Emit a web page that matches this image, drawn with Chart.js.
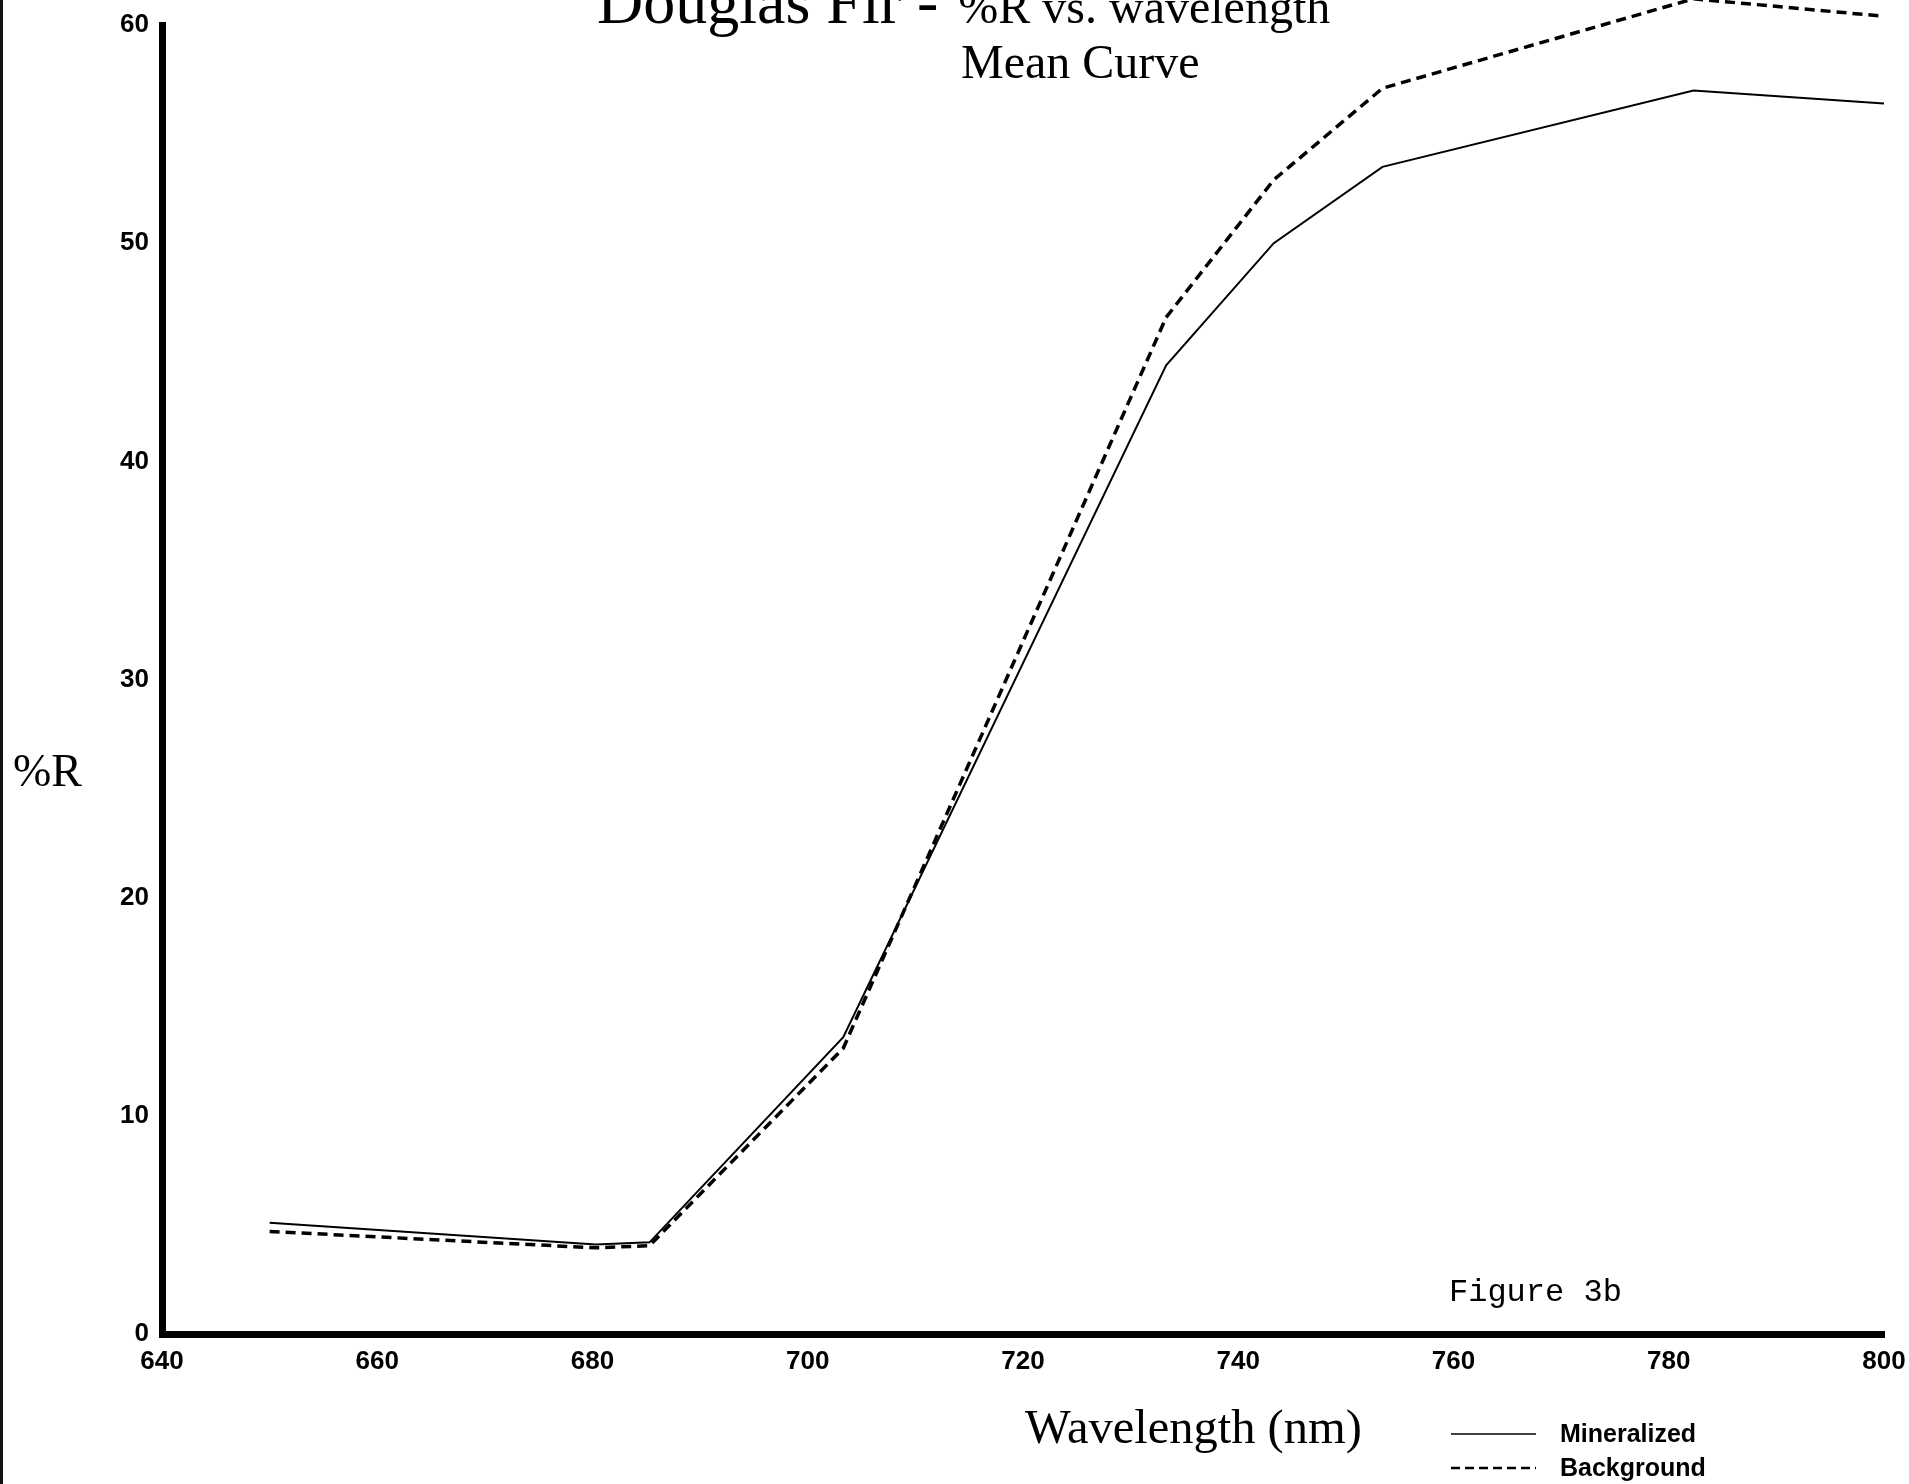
<!DOCTYPE html>
<html>
<head>
<meta charset="utf-8">
<title>Douglas Fir - %R vs. wavelength</title>
<script src="https://cdn.jsdelivr.net/npm/chart.js@4/dist/chart.umd.min.js"></script>
<style>
  html, body { margin: 0; padding: 0; background: #fff; }
  #wrap { position: relative; width: 1909px; height: 1484px; border-left: 3px solid #111; box-sizing: border-box; }
  canvas { display: block; }
</style>
</head>
<body>
<div id="wrap"><canvas id="chart" width="1906" height="1484"></canvas></div>
<script>
// Wavelengths sampled (nm)
const wavelengths = [650, 680.3, 685.3, 703.3, 733.3, 743.3, 753.4, 782.3, 800];
// Mean reflectance (%R) per group
const mineralized = [5.1, 4.1, 4.2, 13.6, 44.4, 50.0, 53.5, 57.0, 56.4];
const background  = [4.7, 3.95, 4.05, 13.1, 46.6, 52.9, 57.1, 61.2, 60.4];
// Axis ticks
const xTicks = [640, 660, 680, 700, 720, 740, 760, 780, 800];
const yTicks = [0, 10, 20, 30, 40, 50, 60];

const seriesNames = ['Mineralized', 'Background'];

const toPoints = (ys) => wavelengths.map((w, i) => ({ x: w, y: ys[i] }));

const SERIF = '"Liberation Serif", "Times New Roman", serif';
const SANS = '"Liberation Sans", Arial, Helvetica, sans-serif';
const MONO = '"Liberation Mono", "Courier New", monospace';

// Title, axis captions, figure tag and the key are drawn on top of the plot
const annotations = {
  id: 'annotations',
  afterDraw(chart) {
    const ctx = chart.ctx;
    ctx.save();
    ctx.fillStyle = '#000';
    ctx.strokeStyle = '#000';
    ctx.textBaseline = 'alphabetic';
    ctx.textAlign = 'left';

    // Title line 1 (two sizes)
    ctx.font = '64px ' + SERIF;
    const part1 = 'Douglas Fir - ';
    ctx.fillText(part1, 594, 23);
    const w1 = ctx.measureText(part1).width;
    ctx.font = '48px ' + SERIF;
    ctx.fillText('%R vs. wavelength', 598 + w1, 23);

    // Title line 2
    ctx.font = '48px ' + SERIF;
    ctx.fillText('Mean Curve', 958, 78);

    // Y caption
    ctx.font = '46px ' + SERIF;
    ctx.fillText('%R', 10, 786);

    // X caption
    ctx.font = '48.5px ' + SERIF;
    ctx.fillText('Wavelength (nm)', 1022, 1443);

    // Figure tag
    ctx.font = '32px ' + MONO;
    ctx.fillText('Figure 3b', 1446, 1301);

    // Key
    const rows = [
      { name: seriesNames[0], y: 1434, dash: [], width: 1.5 },
      { name: seriesNames[1], y: 1468, dash: [9, 5], width: 2.5 }
    ];
    ctx.font = 'bold 25px ' + SANS;
    ctx.textBaseline = 'middle';
    rows.forEach(r => {
      ctx.beginPath();
      ctx.setLineDash(r.dash);
      ctx.lineWidth = r.width;
      ctx.moveTo(1448, r.y);
      ctx.lineTo(1533, r.y);
      ctx.stroke();
      ctx.setLineDash([]);
      ctx.fillText(r.name, 1557, r.y + 1);
    });
    ctx.restore();
  }
};

new Chart(document.getElementById('chart'), {
  type: 'line',
  data: {
    datasets: [
      {
        label: seriesNames[0],
        data: toPoints(mineralized),
        borderColor: '#000',
        borderWidth: 2,
        pointRadius: 0,
        tension: 0,
        fill: false,
        clip: false
      },
      {
        label: seriesNames[1],
        data: toPoints(background),
        borderColor: '#000',
        borderWidth: 3.5,
        borderDash: [10, 6],
        pointRadius: 0,
        tension: 0,
        fill: false,
        clip: false
      }
    ]
  },
  options: {
    responsive: false,
    animation: false,
    events: [],
    layout: { padding: { left: 0, top: 25, right: 25, bottom: 0 } },
    plugins: {
      legend: { display: false },
      title: { display: false },
      tooltip: { enabled: false }
    },
    scales: {
      x: {
        type: 'linear',
        min: xTicks[0],
        max: xTicks[xTicks.length - 1],
        afterBuildTicks: (scale) => { scale.ticks = xTicks.map(v => ({ value: v })); },
        afterFit: (scale) => {
          scale.height = 150;
          scale.paddingLeft = 0;
          scale.paddingRight = 0;
        },
        grid: { display: false, drawTicks: false },
        border: { display: true, width: 7, color: '#000' },
        ticks: {
          color: '#000',
          padding: 12,
          maxRotation: 0,
          autoSkip: false,
          font: { family: SANS, size: 26, weight: 'bold' }
        }
      },
      y: {
        type: 'linear',
        min: yTicks[0],
        max: yTicks[yTicks.length - 1],
        afterBuildTicks: (scale) => { scale.ticks = yTicks.map(v => ({ value: v })); },
        afterFit: (scale) => {
          scale.width = 159;
          scale.paddingTop = 0;
          scale.paddingBottom = 0;
        },
        grid: { display: false, drawTicks: false },
        border: { display: true, width: 7, color: '#000' },
        ticks: {
          color: '#000',
          padding: 13,
          font: { family: SANS, size: 26, weight: 'bold' }
        }
      }
    }
  },
  plugins: [annotations]
});
</script>
</body>
</html>
